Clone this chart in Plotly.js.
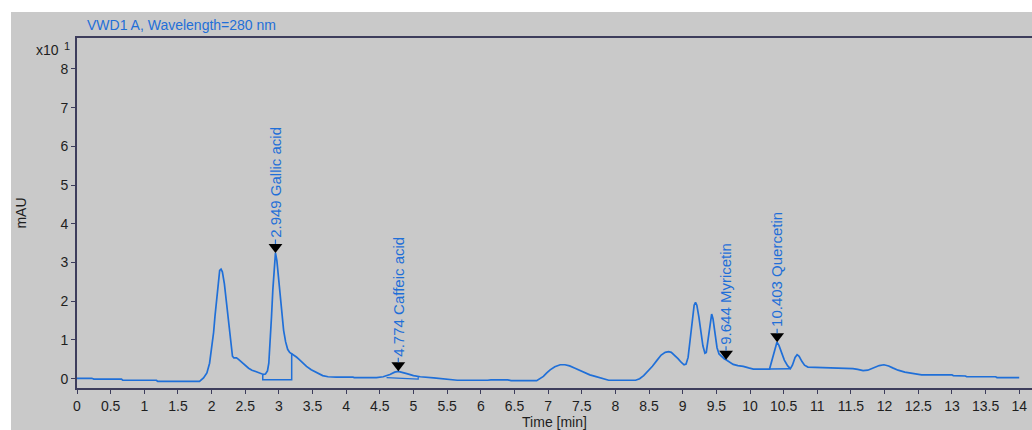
<!DOCTYPE html>
<html>
<head>
<meta charset="utf-8">
<script src="https://cdn.plot.ly/plotly-3.0.1.min.js"></script>
<style>html,body{margin:0;padding:0;background:#fff;}#chart{width:1032px;height:430px;}</style>
</head>
<body>
<div id="chart"></div>
<script>
// Chromatogram signal (time in min, signal in x10 mAU)
var timeMin = [0.00,0.22,0.25,0.66,0.68,1.18,1.20,1.82,1.88,1.93,1.97,2.00,2.03,2.05,2.08,2.10,2.12,2.14,2.16,2.19,2.22,2.25,2.27,2.29,2.31,2.33,2.37,2.40,2.45,2.50,2.55,2.60,2.67,2.72,2.77,2.80,2.83,2.85,2.87,2.89,2.91,2.93,2.949,2.97,2.99,3.02,3.04,3.07,3.10,3.13,3.16,3.21,3.26,3.30,3.35,3.41,3.48,3.56,3.65,3.73,3.85,4.10,4.12,4.45,4.55,4.65,4.72,4.774,4.83,4.90,5.00,5.10,5.30,5.45,5.55,5.65,6.10,6.15,6.40,6.45,6.83,6.88,6.93,6.98,7.03,7.10,7.18,7.25,7.32,7.40,7.47,7.55,7.62,7.70,7.80,7.90,8.30,8.36,8.42,8.48,8.55,8.62,8.68,8.74,8.79,8.83,8.88,8.93,8.98,9.02,9.05,9.08,9.11,9.14,9.17,9.19,9.21,9.24,9.27,9.30,9.33,9.35,9.38,9.41,9.43,9.45,9.48,9.51,9.54,9.58,9.62,9.644,9.70,9.75,9.82,9.90,9.98,10.05,10.29,10.33,10.37,10.40,10.43,10.47,10.51,10.56,10.60,10.63,10.67,10.70,10.73,10.77,10.81,10.86,11.08,11.10,11.53,11.60,11.68,11.75,11.83,11.92,11.99,12.06,12.12,12.20,12.30,12.40,12.52,12.55,13.00,13.02,13.20,13.22,13.65,13.67,14.00];
var signal = [0.01,0.01,-0.01,-0.01,-0.04,-0.04,-0.07,-0.07,0.02,0.15,0.40,0.75,1.20,1.61,2.20,2.62,2.80,2.83,2.76,2.45,2.00,1.50,1.12,0.80,0.58,0.54,0.54,0.50,0.42,0.34,0.27,0.22,0.17,0.13,0.11,0.12,0.20,0.40,0.90,1.60,2.30,2.95,3.25,3.05,2.70,2.10,1.65,1.25,0.95,0.76,0.68,0.63,0.56,0.50,0.41,0.32,0.23,0.15,0.08,0.05,0.04,0.04,0.03,0.03,0.05,0.11,0.17,0.19,0.17,0.13,0.08,0.05,0.02,0.00,-0.03,-0.04,-0.04,-0.03,-0.03,-0.05,-0.05,0.00,0.06,0.15,0.23,0.31,0.36,0.36,0.33,0.27,0.21,0.15,0.10,0.06,0.01,-0.04,-0.04,0.00,0.08,0.18,0.32,0.48,0.61,0.68,0.70,0.68,0.61,0.52,0.42,0.36,0.38,0.55,1.00,1.50,1.90,1.97,1.90,1.60,1.20,0.85,0.66,0.68,1.05,1.50,1.67,1.55,1.15,0.80,0.64,0.57,0.51,0.49,0.42,0.37,0.34,0.32,0.28,0.25,0.25,0.50,0.78,0.94,0.86,0.66,0.48,0.33,0.26,0.35,0.55,0.62,0.58,0.45,0.35,0.30,0.29,0.27,0.26,0.24,0.21,0.22,0.28,0.34,0.36,0.33,0.28,0.22,0.17,0.14,0.11,0.10,0.10,0.08,0.07,0.05,0.05,0.03,0.03];

// Integration baselines
var gallicBaseT = [2.76, 2.76, 3.19, 3.19];
var gallicBaseV = [0.10, -0.03, -0.03, 0.66];
var caffeicBaseT = [4.60, 5.07, 5.07];
var caffeicBaseV = [0.03, -0.01, 0.07];
var quercetinBaseT = [10.29, 10.60];
var quercetinBaseV = [0.25, 0.26];

// Peak labels
var peakTimes = [2.949, 4.774, 9.644, 10.403];
var peakHeights = [3.25, 0.19, 0.49, 0.94];
var peakNames = ["Gallic acid", "Caffeic acid", "Myricetin", "Quercetin"];

// Axis ticks
var xTicks = [0,0.5,1,1.5,2,2.5,3,3.5,4,4.5,5,5.5,6,6.5,7,7.5,8,8.5,9,9.5,10,10.5,11,11.5,12,12.5,13,13.5,14];
var xTickText = ["0","0.5","1","1.5","2","2.5","3","3.5","4","4.5","5","5.5","6","6.5","7","7.5","8","8.5","9","9.5","10","10.5","11","11.5","12","12.5","13","13.5","14"];
var yTicks = [0,1,2,3,4,5,6,7,8];

var W = 1032, H = 430;
var mL = 77, mR = 0, mT = 38, mB = 42;
var plotW = W - mL - mR, plotH = H - mT - mB;
var xRange = [0, 14.19];
var yRange = [-0.24, 8.80];
var pxPerY = plotH / (yRange[1] - yRange[0]);

var blue = '#1f6fd8';
var axisCol = '#3d3d5c';
var txtCol = '#1e1e1e';
var FONT = 'Liberation Sans, Arial, sans-serif';

function px2paperX(p){ return (p - mL) / plotW; }
function px2paperY(p){ return (H - mB - p) / plotH; }

var triSize = 12;
var triH = 9;
var markerY = peakHeights.map(function(v){ return v + (triSize/2) / pxPerY; });

var traces = [
  {x: timeMin, y: signal, type: 'scatter', mode: 'lines', line: {color: blue, width: 1.7}, hoverinfo: 'skip'},
  {x: gallicBaseT, y: gallicBaseV, type: 'scatter', mode: 'lines', line: {color: blue, width: 1.5}, hoverinfo: 'skip'},
  {x: caffeicBaseT, y: caffeicBaseV, type: 'scatter', mode: 'lines', line: {color: blue, width: 1.2}, hoverinfo: 'skip'},
  {x: quercetinBaseT, y: quercetinBaseV, type: 'scatter', mode: 'lines', line: {color: blue, width: 1.5}, hoverinfo: 'skip'},
  {x: peakTimes, y: markerY, type: 'scatter', mode: 'markers', marker: {symbol: 'triangle-down', size: triSize, color: '#000'}, hoverinfo: 'skip'}
];

var annotations = [];
peakTimes.forEach(function(t, i){
  // connector tick above the triangle
  annotations.push({
    x: t, y: peakHeights[i], xref: 'x', yref: 'y', text: '',
    showarrow: true, arrowhead: 0, arrowwidth: 1.2, arrowcolor: blue,
    ax: 0, ay: -(triH + 6), standoff: triH
  });
  // rotated label
  annotations.push({
    x: t, y: peakHeights[i], xref: 'x', yref: 'y',
    text: t.toFixed(3) + ' ' + peakNames[i],
    textangle: -90, showarrow: false, xanchor: 'center', yanchor: 'bottom',
    yshift: triH + 5, borderpad: 0,
    font: {family: FONT, size: 15, color: blue}
  });
});
annotations.push({xref: 'paper', yref: 'paper', x: px2paperX(47), y: px2paperY(50), text: 'x10', showarrow: false,
  xanchor: 'center', yanchor: 'middle', font: {family: FONT, size: 14, color: txtCol}});
annotations.push({xref: 'paper', yref: 'paper', x: px2paperX(67), y: px2paperY(46), text: '1', showarrow: false,
  xanchor: 'center', yanchor: 'middle', font: {family: FONT, size: 11, color: txtCol}});

var layout = {
  width: W, height: H,
  margin: {l: mL, r: mR, t: mT, b: mB, pad: 0},
  paper_bgcolor: '#c9c9c9', plot_bgcolor: '#c9c9c9',
  showlegend: false,
  title: {text: 'VWD1 A, Wavelength=280 nm', xref: 'container', yref: 'container', x: 87/W, xanchor: 'left', y: 1 - 25/H, yanchor: 'middle',
    font: {family: FONT, size: 14, color: blue}},
  xaxis: {range: xRange, tickmode: 'array', tickvals: xTicks, ticktext: xTickText, showgrid: false, zeroline: false,
    showline: true, linecolor: axisCol, linewidth: 2, mirror: true, ticks: 'outside', ticklen: 4, tickcolor: axisCol, tickwidth: 1,
    tickfont: {family: FONT, size: 14, color: txtCol},
    title: {text: 'Time [min]', standoff: 5, font: {family: FONT, size: 14, color: txtCol}}},
  yaxis: {range: yRange, tickmode: 'array', tickvals: yTicks, showgrid: false, zeroline: false,
    showline: true, linecolor: axisCol, linewidth: 2, ticks: 'outside', ticklen: 4, tickcolor: axisCol, tickwidth: 1,
    tickfont: {family: FONT, size: 14, color: txtCol},
    title: {text: 'mAU', standoff: 31, font: {family: FONT, size: 14, color: txtCol}}},
  shapes: [
    {type: 'rect', xref: 'paper', yref: 'paper', x0: px2paperX(0), x1: px2paperX(W), y0: px2paperY(12), y1: px2paperY(0), fillcolor: '#ffffff', line: {width: 0}, layer: 'below'},
    {type: 'rect', xref: 'paper', yref: 'paper', x0: px2paperX(0), x1: px2paperX(11), y0: px2paperY(H), y1: px2paperY(0), fillcolor: '#ffffff', line: {width: 0}, layer: 'below'}
  ],
  annotations: annotations
};

Plotly.newPlot('chart', traces, layout, {displayModeBar: false, staticPlot: true});
</script>
</body>
</html>
